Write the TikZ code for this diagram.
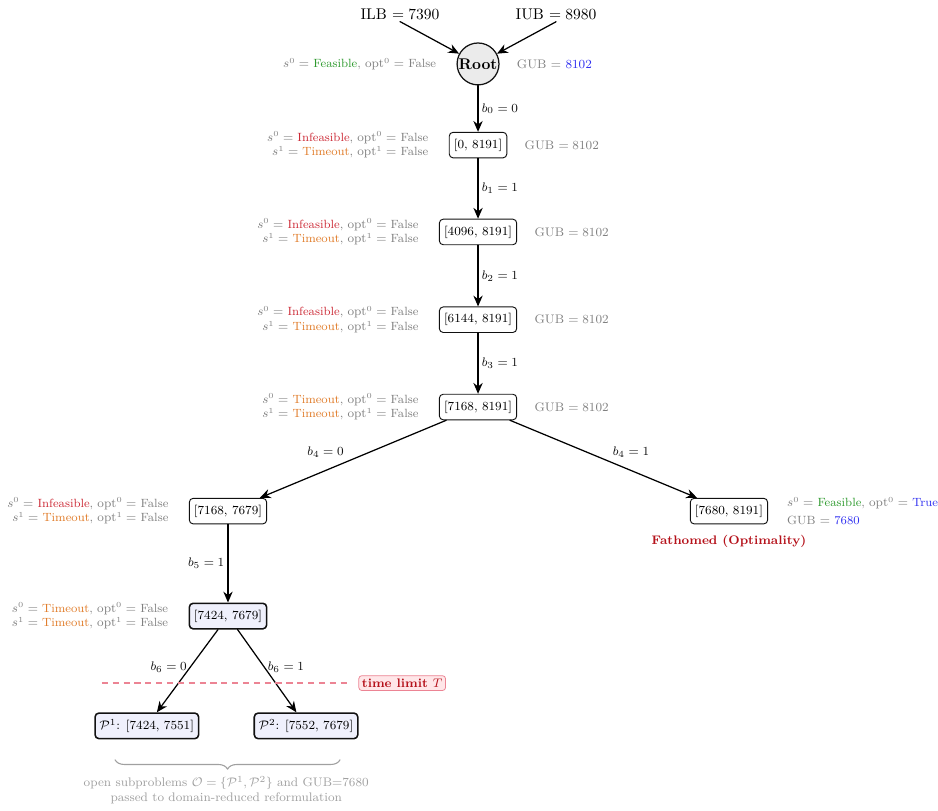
\documentclass[tikz,border=0pt]{standalone}
\usepackage{tikz}
\usetikzlibrary{positioning, arrows.meta, decorations.pathreplacing}
\definecolor{figink}{HTML}{111111}
\definecolor{figsub}{HTML}{808080}
\definecolor{figpale}{HTML}{A0A0A0}
\definecolor{figroot}{HTML}{EBEBEB}
\definecolor{figopen}{HTML}{EFF0FC}
\definecolor{figfeas}{HTML}{2E9A2E}
\definecolor{figinf}{HTML}{CC2A36}
\definecolor{figtime}{HTML}{E07B28}
\definecolor{figopt}{HTML}{3030F0}
\definecolor{figfath}{HTML}{B5121B}
\definecolor{figlim}{HTML}{EC8494}
\definecolor{figlimfill}{HTML}{FFE6E8}

\begin{document}
\begin{tikzpicture}[
  x=1cm, y=1cm,
  line width=0.8pt, line cap=round, line join=round,
  >={Stealth[length=7pt, width=6pt]},
  bnd/.style = {draw=figink, line width=0.6pt, rounded corners=2.5pt, fill=white,
                inner sep=3pt, minimum height=0.58cm, anchor=center, font=\footnotesize},
  opn/.style = {bnd, line width=1pt, fill=figopen},
  rt/.style  = {draw=figink, line width=0.8pt, circle, fill=figroot,
                minimum size=0.95cm, inner sep=0pt, font=\bfseries},
  st/.style  = {font=\fontsize{7.7pt}{9.4pt}\selectfont, color=figsub, align=right,
                inner sep=0pt, left=0.45cm of #1},
  gub/.style = {font=\footnotesize, color=figsub, inner sep=0pt, right=0.38cm of #1},
  lbl/.style = {font=\footnotesize, color=figink, inner sep=2pt},
  bnd0/.style = {font=\normalsize, inner sep=1pt},
  tlim/.style = {font=\footnotesize\bfseries, color=figfath, fill=figlimfill, draw=figlim,
                 line width=0.5pt, rounded corners=2pt, inner sep=2pt},
  note/.style = {font=\footnotesize, color=figpale, align=center}
]
\useasboundingbox (-10.84,1.45) rectangle (10.43,-16.92);

% 根节点与初始界
\node[rt] (r) at (0,0) {Root};
\node[bnd0] (ilb) at (-1.77,1.13) {ILB $=7390$};
\node[bnd0] (iub) at (1.77,1.13) {IUB $=8980$};
\draw[->] (ilb.south) -- (r);
\draw[->] (iub.south) -- (r);
\node[st=r] {$s^0=$ \textcolor{figfeas}{Feasible}, $\mathrm{opt}^0=$ False};
\node[gub=r] {GUB $=$ \textcolor{figopt}{8102}};

% 主干 x=0
\node[bnd] (n1) at (0,-1.84) {[0, 8191]};
\node[bnd] (n2) at (0,-3.81) {[4096, 8191]};
\node[bnd] (n3) at (0,-5.80) {[6144, 8191]};
\node[bnd] (n4) at (0,-7.78) {[7168, 8191]};

\draw[->] (r) -- node[lbl, right] {$b_0=0$} (n1);
\draw[->] (n1) -- node[lbl, right] {$b_1=1$} (n2);
\draw[->] (n2) -- node[lbl, right] {$b_2=1$} (n3);
\draw[->] (n3) -- node[lbl, right] {$b_3=1$} (n4);

\node[st=n1] {$s^0=$ \textcolor{figinf}{Infeasible}, $\mathrm{opt}^0=$ False\\
              $s^1=$ \textcolor{figtime}{Timeout}, $\mathrm{opt}^1=$ False};
\node[st=n2] {$s^0=$ \textcolor{figinf}{Infeasible}, $\mathrm{opt}^0=$ False\\
              $s^1=$ \textcolor{figtime}{Timeout}, $\mathrm{opt}^1=$ False};
\node[st=n3] {$s^0=$ \textcolor{figinf}{Infeasible}, $\mathrm{opt}^0=$ False\\
              $s^1=$ \textcolor{figtime}{Timeout}, $\mathrm{opt}^1=$ False};
\node[st=n4] {$s^0=$ \textcolor{figtime}{Timeout}, $\mathrm{opt}^0=$ False\\
              $s^1=$ \textcolor{figtime}{Timeout}, $\mathrm{opt}^1=$ False};
\node[gub=n1] {GUB $=8102$};
\node[gub=n2] {GUB $=8102$};
\node[gub=n3] {GUB $=8102$};
\node[gub=n4] {GUB $=8102$};

% b_4 分支
\node[bnd] (n5l) at (-5.67,-10.14) {[7168, 7679]};
\node[bnd] (n5r) at (5.69,-10.14) {[7680, 8191]};
\draw[->] (n4) -- node[lbl, above left, pos=0.53] {$b_4=0$} (n5l);
\draw[->] (n4) -- node[lbl, above right, pos=0.53] {$b_4=1$} (n5r);

\node[st=n5l] {$s^0=$ \textcolor{figinf}{Infeasible}, $\mathrm{opt}^0=$ False\\
               $s^1=$ \textcolor{figtime}{Timeout}, $\mathrm{opt}^1=$ False};
\node[font=\fontsize{7.7pt}{9.4pt}\selectfont, color=figsub, align=left, inner sep=0pt,
      right=0.42cm of n5r]
  {$s^0=$ \textcolor{figfeas}{Feasible}, $\mathrm{opt}^0=$ \textcolor{figopt}{True}\\[2pt]
   GUB $=$ \textcolor{figopt}{7680}};
\node[font=\footnotesize\bfseries, color=figfath, below=0.12cm of n5r] {Fathomed (Optimality)};

% 超时节点
\node[opn] (n6) at (-5.67,-12.52) {[7424, 7679]};
\draw[->] (n5l) -- node[lbl, left] {$b_5=1$} (n6);
\node[st=n6] {$s^0=$ \textcolor{figtime}{Timeout}, $\mathrm{opt}^0=$ False\\
              $s^1=$ \textcolor{figtime}{Timeout}, $\mathrm{opt}^1=$ False};

% 开放子问题
\node[opn] (p1) at (-7.51,-15.01) {$\mathcal{P}^1$: [7424, 7551]};
\node[opn] (p2) at (-3.90,-15.01) {$\mathcal{P}^2$: [7552, 7679]};
\draw[->] (n6) -- node[lbl, left, pos=0.45] {$b_6=0$} (p1);
\draw[->] (n6) -- node[lbl, right, pos=0.45] {$b_6=1$} (p2);

% 时间限制
\node[tlim] (tl) at (-1.72,-14.04) {time limit $T$};
\coordinate (tl0) at (-8.53,-14.04);
\draw[draw=figlim, line width=1.1pt, line cap=butt, dash pattern=on 4pt off 3pt]
  (tl0) -- ([xshift=-0.25cm]tl.west);

% 花括号与说明
\coordinate (bl) at (-8.23,-15.78);
\coordinate (br) at (-3.13,-15.78);
\draw[figpale, line width=0.7pt, decorate, decoration={brace, mirror, amplitude=6pt}] (bl) -- (br);
\node[note] (nt) at (-5.71,-16.46)
  {open subproblems $\mathcal{O}=\{\mathcal{P}^1,\mathcal{P}^2\}$ and GUB=7680\\
   passed to domain-reduced reformulation};

\end{tikzpicture}
\end{document}
